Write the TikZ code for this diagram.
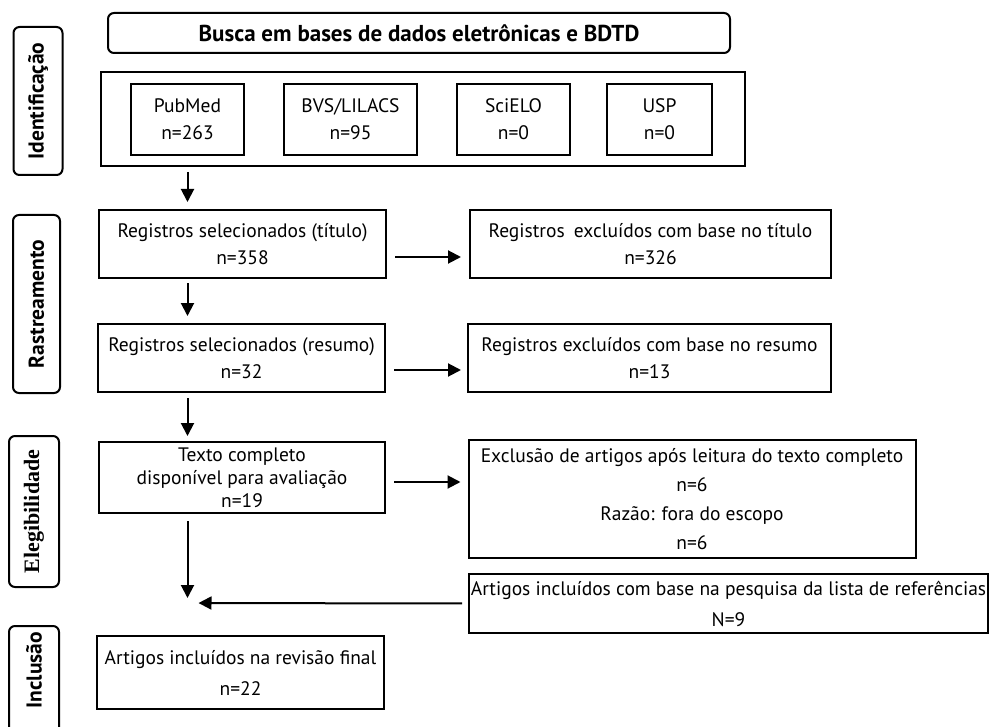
\documentclass[tikz,border=0pt]{standalone}
\usepackage{fontspec}
\usetikzlibrary{arrows.meta}
\newfontfamily\ptsans{PT Sans}
\newfontfamily\serifbold{Liberation Serif}

\begin{document}
\begin{tikzpicture}[x=1pt,y=1pt]
\tikzstyle{every node}+=[inner sep=0pt]
\tikzstyle{box}=[draw=black, line width=2pt, rectangle, align=center, font=\ptsans\fontsize{19.5}{27}\selectfont]
\tikzstyle{sidebox}=[draw=black, line width=2pt, rounded corners=6pt, rotate=90, font=\ptsans\bfseries\fontsize{21.5}{24}\selectfont]
\tikzstyle{arr}=[black, line width=2pt, -{Triangle[length=13pt,width=13pt]}]
\useasboundingbox (0,0) rectangle (990,-727);
\clip (0,0) rectangle (990,-727);
\node [sidebox, minimum width=148, minimum height=49] (ident) at (38,-101) {Identificação};
\node [sidebox, minimum width=178, minimum height=47] (rastr) at (36.5,-304) {Rastreamento};
\node [sidebox, minimum width=151, minimum height=50, font=\serifbold\bfseries\fontsize{22}{24}\selectfont] (eleg) at (34,-511.5) {Elegibilidade};
\node [sidebox, minimum width=130, minimum height=50, text width=118, align=right, anchor=east] (incl) at (34,-625) {Inclusão};
\node [box, rounded corners=6pt, minimum width=622, minimum height=40, font=\ptsans\bfseries\fontsize{23}{24}\selectfont] (busca) at (419,-33) {Busca em bases de dados eletrônicas e BDTD};
\node [box, minimum width=644, minimum height=94] (bases) at (423,-119) {};
\node [box, minimum width=113, minimum height=71] (pubmed) at (187.5,-119.5) {PubMed\\n=263};
\node [box, minimum width=133, minimum height=71] (bvs) at (350.5,-119.5) {BVS/LILACS\\n=95};
\node [box, minimum width=113, minimum height=71] (scielo) at (513.5,-119.5) {SciELO\\n=0};
\node [box, minimum width=105, minimum height=71] (usp) at (659.5,-119.5) {USP\\n=0};
\node [box, minimum width=287, minimum height=68] (titulo) at (242.5,-244) {Registros selecionados (título)\\n=358};
\node [box, minimum width=361, minimum height=68] (exctitulo) at (650.5,-244) {Registros\hspace{4pt} excluídos com base no título\\n=326};
\node [box, minimum width=287, minimum height=68] (resumo) at (241.5,-358) {Registros selecionados (resumo)\\n=32};
\node [box, minimum width=363, minimum height=68] (excresumo) at (649.5,-358) {Registros excluídos com base no resumo\\n=13};
\node [box, minimum width=286, minimum height=71, font=\ptsans\fontsize{19.5}{23}\selectfont] (texto) at (242,-477.5) {Texto completo\\disponível para avaliação\\n=19};
\node [box, minimum width=447, minimum height=118, font=\ptsans\fontsize{19.5}{29}\selectfont] (exclusao) at (692,-499) {Exclusão de artigos após leitura do texto completo\\n=6\\Razão: fora do escopo\\n=6};
\node [box, minimum width=519, minimum height=59, font=\ptsans\fontsize{19.5}{31}\selectfont] (refs) at (728.5,-603.5) {Artigos incluídos com base na pesquisa da lista de referências\\N=9};
\node [box, minimum width=287, minimum height=73, font=\ptsans\fontsize{19.5}{31}\selectfont] (final) at (240.5,-672.5) {Artigos incluídos na revisão final\\n=22};
\coordinate (meet) at (187.5,-603);
\draw [arr, shorten <=5pt, shorten >=7pt] (bases.south -| pubmed) -- (titulo.north -| pubmed);
\draw [arr, shorten <=4pt, shorten >=7pt] (titulo.south -| pubmed) -- (resumo.north -| pubmed);
\draw [arr, shorten <=5pt, shorten >=5pt] (resumo.south -| pubmed) -- (texto.north -| pubmed);
\draw [arr, shorten <=7pt, shorten >=5pt] (texto.south -| pubmed) -- (meet);
\draw [arr, shorten <=6pt, shorten >=11pt] (refs.west) -- (meet);
\draw [arr, shorten <=8pt, shorten >=8pt] ([yshift=-13pt]titulo.east) -- ([yshift=-13pt]titulo.east -| exctitulo.west);
\draw [arr, shorten <=8pt, shorten >=6pt] ([yshift=-12pt]resumo.east) -- ([yshift=-12pt]resumo.east -| excresumo.west);
\draw [arr, shorten <=8pt, shorten >=7pt] ([yshift=-4.5pt]texto.east) -- ([yshift=-4.5pt]texto.east -| exclusao.west);
\end{tikzpicture}
\end{document}
